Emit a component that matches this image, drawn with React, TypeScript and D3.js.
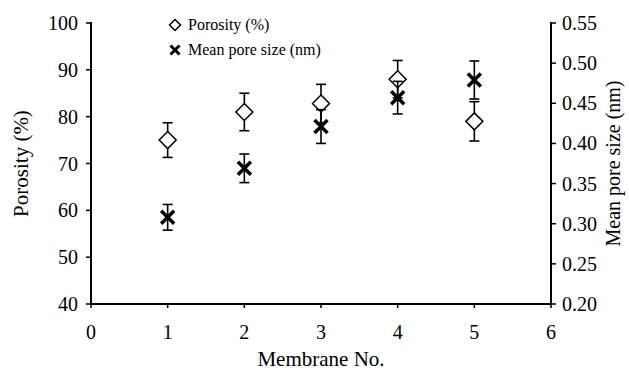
import React from 'react';
import * as d3 from 'd3';

const membranes = [1, 2, 3, 4, 5];
const porosity = [75, 81, 82.8, 88, 79];
const porosityErr = [3.7, 4, 4.1, 4, 4.2];
const poreSize = [0.308, 0.369, 0.421, 0.457, 0.479];
const poreSizeErr = [0.016, 0.0178, 0.021, 0.0203, 0.0237];

const xTicks = [0, 1, 2, 3, 4, 5, 6];
const leftTicks = [40, 50, 60, 70, 80, 90, 100];
const rightTicks = [0.2, 0.25, 0.3, 0.35, 0.4, 0.45, 0.5, 0.55];

const W = 629,
  H = 372;
const plot = { left: 91, right: 551, top: 23, bottom: 304 };
const font = "'Times New Roman', Times, 'Liberation Serif', serif";

const Diamond = ({ cx, cy, r }: { cx: number; cy: number; r: number }) => (
  <path
    d={`M${cx},${cy - r} L${cx + r},${cy} L${cx},${cy + r} L${cx - r},${cy} Z`}
    fill="#fff"
    stroke="#000"
    strokeWidth={1.5}
  />
);

const Cross = ({ cx, cy, r, w }: { cx: number; cy: number; r: number; w: number }) => (
  <path
    d={`M${cx - r},${cy - r} L${cx + r},${cy + r} M${cx - r},${cy + r} L${cx + r},${cy - r}`}
    stroke="#000"
    strokeWidth={w}
    fill="none"
  />
);

const ErrorBar = ({ x, y0, y1 }: { x: number; y0: number; y1: number }) => (
  <g stroke="#000" strokeWidth={1.6}>
    <line x1={x} x2={x} y1={y0} y2={y1} />
    <line x1={x - 5} x2={x + 5} y1={y0} y2={y0} />
    <line x1={x - 5} x2={x + 5} y1={y1} y2={y1} />
  </g>
);

export default function App() {
  const x = d3.scaleLinear().domain([0, 6]).range([plot.left, plot.right]);
  const yL = d3.scaleLinear().domain([40, 100]).range([plot.bottom, plot.top]);
  const yR = d3.scaleLinear().domain([0.2, 0.55]).range([plot.bottom, plot.top]);
  const midY = (plot.top + plot.bottom) / 2;

  return (
    <svg
      width={W}
      height={H}
      style={{ position: 'absolute', left: 0, top: 0, background: '#fff', fontFamily: font }}
    >
      {/* axes */}
      <g stroke="#000" strokeWidth={2} fill="none">
        <line x1={plot.left} x2={plot.left} y1={plot.top - 1} y2={plot.bottom + 1} />
        <line x1={plot.right} x2={plot.right} y1={plot.top - 1} y2={plot.bottom + 1} />
        <line x1={plot.left - 1} x2={plot.right + 1} y1={plot.bottom} y2={plot.bottom} />
      </g>

      {leftTicks.map(t => (
        <g key={'l' + t}>
          <line x1={plot.left - 5} x2={plot.left} y1={yL(t)} y2={yL(t)} stroke="#000" strokeWidth={1.5} />
          <text x={plot.left - 13} y={yL(t) + 7} textAnchor="end" fontSize={20} fontFamily={font}>
            {t}
          </text>
        </g>
      ))}

      {rightTicks.map(t => (
        <g key={'r' + t}>
          <line x1={plot.right} x2={plot.right + 5} y1={yR(t)} y2={yR(t)} stroke="#000" strokeWidth={1.5} />
          <text x={plot.right + 11} y={yR(t) + 7} textAnchor="start" fontSize={20} fontFamily={font}>
            {d3.format('.2f')(t)}
          </text>
        </g>
      ))}

      {xTicks.map(t => (
        <g key={'x' + t}>
          <line x1={x(t)} x2={x(t)} y1={plot.bottom} y2={plot.bottom + 4} stroke="#000" strokeWidth={1.5} />
          <text x={x(t)} y={339} textAnchor="middle" fontSize={20} fontFamily={font}>
            {t}
          </text>
        </g>
      ))}

      {/* axis titles */}
      <text x={(plot.left + plot.right) / 2} y={366} textAnchor="middle" fontSize={21} fontFamily={font}>
        Membrane No.
      </text>
      <text transform={`translate(28,${midY}) rotate(-90)`} textAnchor="middle" fontSize={21} fontFamily={font}>
        Porosity (%)
      </text>
      <text transform={`translate(620,${midY}) rotate(-90)`} textAnchor="middle" fontSize={20} fontFamily={font}>
        Mean pore size (nm)
      </text>

      {/* porosity series */}
      {membranes.map((m, i) => (
        <g key={'p' + m}>
          <ErrorBar x={x(m)} y0={yL(porosity[i] + porosityErr[i])} y1={yL(porosity[i] - porosityErr[i])} />
          <Diamond cx={x(m)} cy={yL(porosity[i])} r={8.5} />
        </g>
      ))}

      {/* pore size series */}
      {membranes.map((m, i) => (
        <g key={'s' + m}>
          <ErrorBar x={x(m)} y0={yR(poreSize[i] + poreSizeErr[i])} y1={yR(poreSize[i] - poreSizeErr[i])} />
          <Cross cx={x(m)} cy={yR(poreSize[i])} r={6.5} w={3.5} />
        </g>
      ))}

      {/* legend */}
      <g>
        <Diamond cx={175} cy={25} r={5.5} />
        <text x={188} y={30} fontSize={16} fontFamily={font}>
          Porosity (%)
        </text>
        <Cross cx={175} cy={50} r={4.5} w={3} />
        <text x={188} y={55} fontSize={16} fontFamily={font}>
          Mean pore size (nm)
        </text>
      </g>
    </svg>
  );
}
